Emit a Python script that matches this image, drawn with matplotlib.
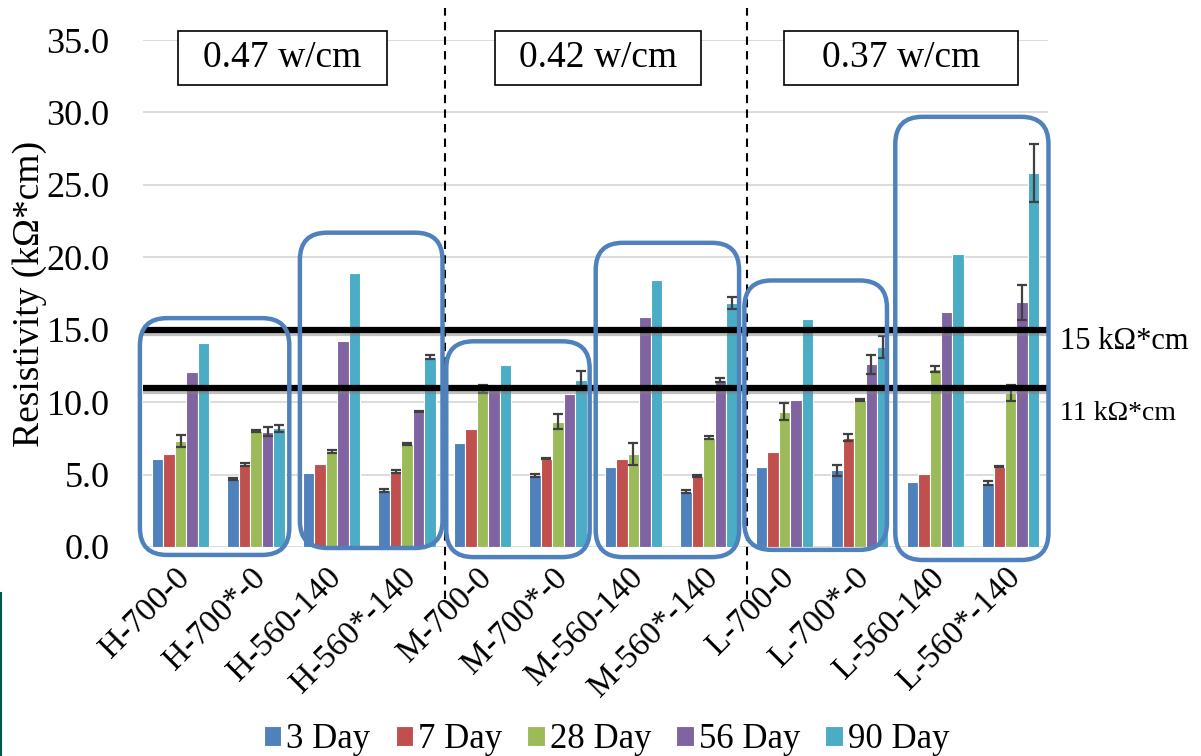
import numpy as np
import matplotlib
matplotlib.use("Agg")
import matplotlib.pyplot as plt
import matplotlib.patheffects as pe
import matplotlib.transforms as mtransforms
from matplotlib.patches import FancyBboxPatch, Rectangle
from matplotlib.lines import Line2D

plt.rcParams['font.family'] = ['Liberation Serif', 'DejaVu Serif']

# Mixes and curing ages
mixes = ['H-700-0', 'H-700*-0', 'H-560-140', 'H-560*-140',
         'M-700-0', 'M-700*-0', 'M-560-140', 'M-560*-140',
         'L-700-0', 'L-700*-0', 'L-560-140', 'L-560*-140']
ages = ['3 Day', '7 Day', '28 Day', '56 Day', '90 Day']
colors = ['#4F81BD', '#C0504D', '#9BBB59', '#8064A2', '#4BACC6']

# Resistivity (kOhm*cm), one list per age
day3 = [6.1, 4.7, 5.1, 3.9, 7.15, 4.95, 5.55, 3.8, 5.55, 5.3, 4.5, 4.4]
day7 = [6.4, 5.7, 5.7, 5.2, 8.15, 6.1, 6.05, 4.9, 6.55, 7.55, 5.05, 5.55]
day28 = [7.3, 8.0, 6.6, 7.1, 10.9, 8.65, 6.4, 7.55, 9.35, 10.15, 12.3, 10.6]
day56 = [12.1, 7.95, 14.2, 9.35, 10.95, 10.55, 15.85, 11.55, 10.15, 12.6, 16.2, 16.9]
day90 = [14.05, 8.2, 18.9, 13.1, 12.55, 11.5, 18.45, 16.85, 15.75, 13.8, 20.25, 25.8]

# Standard deviations (0 = no error bar shown)
err3 = [0, 0.05, 0, 0.1, 0, 0.1, 0, 0.1, 0, 0.38, 0, 0.15]
err7 = [0, 0.1, 0, 0.1, 0, 0.05, 0, 0.1, 0, 0.25, 0, 0.05]
err28 = [0.4, 0.05, 0.1, 0.05, 0.25, 0.5, 0.75, 0.1, 0.6, 0.1, 0.2, 0.55]
err56 = [0, 0.3, 0, 0.05, 0, 0, 0, 0.15, 0, 0.63, 0, 1.2]
err90 = [0, 0.25, 0, 0.15, 0, 0.65, 0, 0.4, 0, 0.77, 0, 2.0]

# Heat input per group and resistivity limits
power_labels = ['0.47 w/cm', '0.42 w/cm', '0.37 w/cm']
limits = [15, 11]
limit_labels = ['15 kΩ*cm', '11 kΩ*cm']

values = [day3, day7, day28, day56, day90]
errors = [err3, err7, err28, err56, err90]

fig = plt.figure(figsize=(12.01, 7.56), dpi=100)
ax = fig.add_axes([0.119, 0.2765, 0.754, 0.6705])

x = np.arange(len(mixes))
step = 0.152
for i, (age, vals, errs) in enumerate(zip(ages, values, errors)):
    pos = x + (i - 2) * step
    ax.bar(pos, vals, width=step, color=colors[i], edgecolor='white',
           linewidth=0.8, label=age, zorder=3)
    errs = np.array(errs)
    m = errs > 0
    ax.errorbar(pos[m], np.array(vals)[m], yerr=errs[m], fmt='none',
                ecolor='#404040', elinewidth=1.6, capsize=3.5, capthick=1.6,
                zorder=4)

ax.set_xlim(-0.5, 11.5)
ax.set_ylim(0, 35)
ax.set_yticks(np.arange(0, 36, 5))
ax.set_yticklabels([f'{v:.1f}' for v in np.arange(0, 36, 5)], fontsize=26)
ax.yaxis.grid(True, color='#d9d9d9', linewidth=1.3, zorder=0)
ax.set_axisbelow(True)
for s in ax.spines.values():
    s.set_visible(False)
ax.tick_params(axis='both', length=0)
ax.tick_params(axis='y', pad=24)
ax.set_xticks(x)
ax.set_xticklabels(mixes, rotation=45, ha='right', va='top',
                   rotation_mode='anchor', fontsize=24)
ax.tick_params(axis='x', pad=11)
shift = mtransforms.ScaledTranslation(-6 / 100, 0, fig.dpi_scale_trans)
for lab in ax.get_xticklabels():
    lab.set_transform(lab.get_transform() + shift)
ax.set_ylabel('Resistivity (kΩ*cm)', fontsize=27)
ax.yaxis.set_label_coords(-0.106, 0.5)

# resistivity limits with a soft shadow
for lim, lab, fs, ty in zip(limits, limit_labels, [22, 20], [14.2, 9.25]):
    ax.axhline(lim, color='black', linewidth=4.5, zorder=5,
               path_effects=[pe.SimpleLineShadow(offset=(0, -2.5),
                                                 shadow_color='#808080', alpha=0.5),
                             pe.Normal()])
    ax.text(11.65, ty, lab, fontsize=fs, ha='left', va='center',
            clip_on=False)

# dashed separators between heat input groups
for xs in [3.5, 7.5]:
    ax.plot([xs, xs], [-3.6, 37.2], color='black', linewidth=1.5,
            linestyle=(0, (4, 3)), clip_on=False, zorder=6)

# rounded frames around pairs of mixes
frames = [(-0.54, 1.44, -0.55, 15.8), (1.58, 3.47, -0.07, 21.7),
          (3.52, 5.42, -0.7, 14.2), (5.5, 7.4, -0.7, 21.0),
          (7.47, 9.36, -0.2, 18.4), (9.47, 11.5, -0.9, 29.7)]
aspect = (1 / 14.49) / (1 / 75.5)
for x0, x1, y0, y1 in frames:
    box = FancyBboxPatch((x0, y0), x1 - x0, y1 - y0,
                         boxstyle='round,pad=0,rounding_size=0.36',
                         mutation_aspect=aspect, fill=False,
                         edgecolor='#4F81BD', linewidth=3.2,
                         clip_on=False, zorder=7)
    ax.add_patch(box)

# heat input boxes on top
label_boxes = [(-0.04, 2.74), (4.17, 6.9), (7.99, 11.1)]
for (x0, x1), lab in zip(label_boxes, power_labels):
    ax.add_patch(Rectangle((x0, 31.9), x1 - x0, 3.75, facecolor='white',
                           edgecolor='black', linewidth=1.2,
                           clip_on=False, zorder=8))
    ax.text((x0 + x1) / 2, 33.75, lab, fontsize=27, ha='center',
            va='center', zorder=9, clip_on=False)

ax.legend(loc='center', bbox_to_anchor=(0.512, -0.38), ncol=5, frameon=False,
          fontsize=25, handlelength=0.5, handleheight=0.5,
          handletextpad=0.15, columnspacing=0.72, borderaxespad=0)

fig.add_artist(Line2D([0.0012, 0.0012], [0, 0.216], color='#005a4a',
                      linewidth=1.5, transform=fig.transFigure))

plt.savefig('out.png', dpi=100)
